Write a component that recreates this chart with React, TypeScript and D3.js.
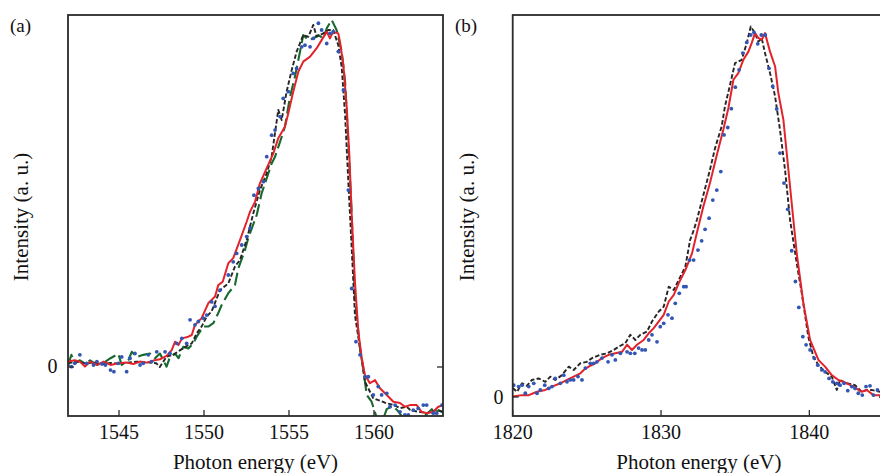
import React from 'react';
import * as d3 from 'd3';

type Pt = [number, number];

// ---------- axes / ticks ----------
const aXTicks = [1545, 1550, 1555, 1560];
const bXTicks = [1820, 1830, 1840];
const yTickValues = [0];
const aXDomain: [number, number] = [1542, 1564.06];
const aYDomain: [number, number] = [-0.1454, 1.0445];
const bXDomain: [number, number] = [1820, 1845.1];
const bYDomain: [number, number] = [-0.0514, 1.032];
const xTitle = 'Photon energy (eV)';
const yTitle = 'Intensity (a. u.)';

// ---------- panel (a) data ----------
const aRed: Pt[] = [
  [1542.0, 0.016], [1542.4, 0.02], [1542.7, 0.016], [1543.0, 0.001], [1543.3, 0.016], [1543.7, 0.006],
  [1544.1, 0.016], [1544.5, 0.006], [1544.96, 0.011], [1545.45, 0.013], [1545.84, 0.009], [1546.24, 0.016],
  [1546.63, 0.013], [1547.02, 0.019], [1547.41, 0.023], [1547.8, 0.033], [1548.1, 0.05], [1548.3, 0.075],
  [1548.5, 0.065], [1548.7, 0.085], [1549.08, 0.09], [1549.28, 0.095], [1549.47, 0.125], [1549.86, 0.145],
  [1550.25, 0.189], [1550.65, 0.209], [1550.84, 0.243], [1551.1, 0.253], [1551.43, 0.308], [1551.72, 0.323],
  [1552.12, 0.377], [1552.51, 0.431], [1552.71, 0.461], [1553.0, 0.49], [1553.29, 0.545], [1553.69, 0.59],
  [1554.08, 0.634], [1554.37, 0.679], [1554.76, 0.713], [1554.96, 0.753], [1555.25, 0.817], [1555.55, 0.876],
  [1555.84, 0.906], [1556.24, 0.921], [1556.63, 0.946], [1556.92, 0.97], [1557.22, 0.995], [1557.41, 0.975],
  [1557.6, 0.995], [1557.9, 0.99], [1558.0, 0.965], [1558.2, 0.896], [1558.4, 0.768], [1558.55, 0.629],
  [1558.69, 0.451], [1558.88, 0.253], [1559.08, 0.105], [1559.28, 0.026], [1559.47, -0.024], [1559.76, -0.048],
  [1560.06, -0.039], [1560.35, -0.063], [1560.75, -0.083], [1561.14, -0.103], [1561.53, -0.107], [1561.82, -0.118],
  [1562.12, -0.113], [1562.51, -0.113], [1562.8, -0.133], [1563.1, -0.137], [1563.49, -0.133], [1563.78, -0.118],
  [1564.06, -0.113],
];

const aBlack: Pt[] = [
  [1542.0, 0.011], [1542.5, 0.016], [1543.0, 0.01], [1543.5, 0.014], [1544.0, 0.008], [1544.5, 0.012],
  [1545.0, 0.01], [1545.5, 0.013], [1546.04, 0.016], [1546.6, 0.014], [1547.2, 0.011], [1547.4, 0.0],
  [1547.8, 0.031], [1548.2, 0.036], [1548.6, 0.05], [1548.9, 0.06], [1549.28, 0.07], [1549.57, 0.1],
  [1549.86, 0.12], [1550.16, 0.15], [1550.45, 0.165], [1550.94, 0.228], [1551.43, 0.248], [1551.82, 0.298],
  [1552.12, 0.318], [1552.51, 0.377], [1552.9, 0.456], [1553.29, 0.525], [1553.69, 0.575], [1553.98, 0.624],
  [1554.37, 0.763], [1554.57, 0.733], [1554.86, 0.817], [1555.16, 0.881], [1555.45, 0.936], [1555.84, 0.985],
  [1556.14, 0.98], [1556.43, 1.015], [1556.63, 0.98], [1557.02, 0.99], [1557.31, 1.0], [1557.6, 1.0],
  [1557.9, 0.955], [1558.1, 0.89], [1558.3, 0.748], [1558.49, 0.55], [1558.69, 0.352], [1558.88, 0.154],
  [1559.18, 0.055], [1559.47, -0.044], [1559.96, -0.093], [1560.35, -0.1], [1560.75, -0.108], [1561.14, -0.112],
  [1561.53, -0.122], [1561.92, -0.118], [1562.12, -0.127], [1562.51, -0.132], [1563.1, -0.137], [1563.69, -0.128],
  [1564.06, -0.133],
];

const aGreen: Pt[] = [
  [1542.0, 0.006], [1542.2, 0.036], [1542.4, 0.011], [1542.7, 0.02], [1543.0, 0.01], [1543.3, 0.02],
  [1543.7, 0.006], [1544.2, 0.016], [1544.5, 0.026], [1544.96, 0.039], [1545.16, 0.006], [1545.55, 0.02],
  [1545.75, 0.045], [1546.04, 0.03], [1546.43, 0.036], [1546.82, 0.04], [1547.12, 0.026], [1547.41, 0.04],
  [1547.8, 0.001], [1548.0, 0.03], [1548.3, 0.04], [1548.5, 0.026], [1548.78, 0.06], [1549.08, 0.055],
  [1549.37, 0.07], [1549.57, 0.09], [1549.96, 0.12], [1550.25, 0.12], [1550.55, 0.13], [1550.84, 0.16],
  [1551.04, 0.184], [1551.43, 0.219], [1551.82, 0.243], [1552.02, 0.293], [1552.41, 0.347], [1552.6, 0.382],
  [1553.1, 0.451], [1553.39, 0.515], [1553.59, 0.545], [1553.98, 0.604], [1554.18, 0.624], [1554.57, 0.683],
  [1554.76, 0.713], [1555.06, 0.802], [1555.35, 0.861], [1555.65, 0.936], [1555.84, 0.985], [1556.14, 0.97],
  [1556.43, 0.975], [1556.73, 0.985], [1557.02, 0.975], [1557.22, 1.005], [1557.51, 1.03], [1557.8, 1.0],
  [1558.1, 0.936], [1558.3, 0.847], [1558.49, 0.669], [1558.69, 0.451], [1558.88, 0.204], [1559.18, 0.055],
  [1559.37, -0.004], [1559.57, -0.083], [1559.86, -0.103], [1560.16, -0.15], [1560.5, -0.16], [1560.75, -0.125],
  [1561.1, -0.115], [1561.4, -0.13], [1561.7, -0.15], [1562.0, -0.16], [1562.4, -0.155], [1562.8, -0.15],
  [1563.1, -0.14], [1563.4, -0.125], [1563.6, -0.14], [1563.8, -0.128], [1564.06, -0.135],
];

const aBlue: Pt[] = [
  [1542.0, 0.006], [1542.2, 0.001], [1542.4, 0.011], [1542.7, 0.036], [1543.1, 0.011], [1543.5, 0.006],
  [1543.7, 0.016], [1544.0, 0.009], [1544.2, 0.006], [1544.5, -0.009], [1544.7, -0.014], [1544.96, 0.011],
  [1545.16, 0.03], [1545.45, -0.014], [1545.65, 0.026], [1545.94, 0.04], [1546.24, 0.006], [1546.43, 0.011],
  [1546.72, 0.036], [1546.92, 0.016], [1547.22, 0.045], [1547.71, 0.045], [1548.0, 0.04], [1548.4, 0.07],
  [1548.7, 0.085], [1548.98, 0.07], [1549.18, 0.14], [1549.47, 0.125], [1549.67, 0.135], [1549.96, 0.145],
  [1550.16, 0.154], [1550.45, 0.193], [1550.65, 0.18], [1550.94, 0.228], [1551.43, 0.273], [1551.72, 0.312],
  [1551.92, 0.337], [1552.22, 0.362], [1552.51, 0.387], [1552.71, 0.412], [1552.94, 0.51], [1553.2, 0.53],
  [1553.49, 0.55], [1553.69, 0.624], [1553.98, 0.688], [1554.18, 0.703], [1554.47, 0.743], [1554.66, 0.797],
  [1554.96, 0.817], [1555.25, 0.871], [1555.45, 0.886], [1555.75, 0.95], [1555.94, 0.955], [1556.24, 0.95],
  [1556.43, 0.975], [1556.73, 1.02], [1556.92, 1.0], [1557.22, 0.96], [1557.41, 0.99], [1557.6, 0.995],
  [1557.9, 0.936], [1558.2, 0.822], [1558.49, 0.525], [1558.69, 0.233], [1558.94, 0.075], [1559.18, 0.036],
  [1559.47, -0.029], [1559.67, -0.029], [1559.96, -0.083], [1560.25, -0.058], [1560.45, -0.083], [1560.75, -0.078],
  [1560.94, -0.118], [1561.24, -0.113], [1561.53, -0.133], [1561.82, -0.142], [1562.02, -0.142], [1562.31, -0.128],
  [1562.6, -0.123], [1562.9, -0.113], [1563.1, -0.113], [1563.49, -0.137], [1563.69, -0.137], [1564.0, -0.113],
];

// ---------- panel (b) data ----------
const bRed: Pt[] = [
  [1820.0, 0.001], [1820.63, 0.005], [1821.08, 0.005], [1821.64, 0.014], [1822.2, 0.019], [1822.65, 0.028],
  [1823.21, 0.037], [1823.66, 0.046], [1824.11, 0.055], [1824.56, 0.064], [1824.79, 0.073], [1825.12, 0.082],
  [1825.57, 0.091], [1826.02, 0.105], [1826.47, 0.114], [1826.92, 0.118], [1827.37, 0.122], [1827.71, 0.141],
  [1828.04, 0.127], [1828.38, 0.141], [1828.83, 0.154], [1829.17, 0.172], [1829.51, 0.186], [1829.85, 0.204],
  [1830.18, 0.222], [1830.52, 0.258], [1830.86, 0.276], [1831.19, 0.307], [1831.64, 0.343], [1832.09, 0.388],
  [1832.43, 0.446], [1832.85, 0.514], [1833.3, 0.578], [1833.76, 0.654], [1834.2, 0.722], [1834.54, 0.78],
  [1834.88, 0.857], [1835.21, 0.875], [1835.55, 0.911], [1835.89, 0.933], [1836.11, 0.956], [1836.34, 0.983],
  [1836.56, 0.97], [1836.79, 0.965], [1837.01, 0.983], [1837.35, 0.933], [1837.69, 0.893], [1837.91, 0.821],
  [1838.25, 0.749], [1838.7, 0.568], [1839.15, 0.388], [1839.6, 0.253], [1840.05, 0.154], [1840.61, 0.1],
  [1841.06, 0.082], [1841.51, 0.059], [1841.96, 0.046], [1842.52, 0.037], [1842.97, 0.028], [1843.53, 0.014],
  [1843.87, 0.019], [1844.32, 0.005], [1844.77, 0.005], [1845.1, 0.003],
];

const bBlack: Pt[] = [
  [1820.0, 0.024], [1820.29, 0.014], [1820.63, 0.037], [1820.95, 0.03], [1821.3, 0.046], [1821.75, 0.05],
  [1822.2, 0.041], [1822.54, 0.055], [1822.87, 0.046], [1823.32, 0.059], [1823.78, 0.082], [1824.11, 0.073],
  [1824.56, 0.091], [1825.0, 0.095], [1825.35, 0.105], [1825.9, 0.114], [1826.36, 0.118], [1826.81, 0.127],
  [1827.15, 0.136], [1827.59, 0.145], [1827.93, 0.168], [1828.27, 0.154], [1828.6, 0.168], [1829.06, 0.177],
  [1829.39, 0.204], [1829.85, 0.231], [1830.18, 0.244], [1830.52, 0.298], [1830.86, 0.289], [1831.19, 0.316],
  [1831.64, 0.352], [1831.96, 0.424], [1832.2, 0.45], [1832.43, 0.48], [1832.85, 0.545], [1833.3, 0.614],
  [1833.64, 0.672], [1834.09, 0.731], [1834.31, 0.785], [1834.65, 0.843], [1834.99, 0.902], [1835.44, 0.911],
  [1835.78, 0.956], [1836.05, 1.001], [1836.34, 0.983], [1836.56, 0.96], [1836.79, 0.969], [1837.01, 0.929],
  [1837.35, 0.875], [1837.69, 0.812], [1838.02, 0.722], [1838.36, 0.614], [1838.7, 0.478], [1839.15, 0.361],
  [1839.49, 0.28], [1839.93, 0.163], [1840.27, 0.109], [1840.61, 0.086], [1841.06, 0.068], [1841.51, 0.055],
  [1841.85, 0.019], [1842.07, 0.046], [1842.52, 0.037], [1843.08, 0.032], [1843.53, 0.014], [1843.87, 0.019],
  [1844.2, 0.019], [1844.77, 0.014], [1845.1, 0.014],
];

const bBlue: Pt[] = [
  [1820.07, 0.032], [1820.4, 0.028], [1820.63, 0.032], [1820.85, 0.01], [1821.08, 0.028], [1821.42, 0.037],
  [1821.64, 0.01], [1821.86, 0.019], [1822.16, 0.032], [1822.43, 0.023], [1822.65, 0.028], [1822.87, 0.05],
  [1823.21, 0.037], [1823.44, 0.059], [1823.66, 0.041], [1823.88, 0.046], [1824.11, 0.046], [1824.4, 0.055],
  [1824.67, 0.046], [1824.9, 0.078], [1825.23, 0.091], [1825.46, 0.091], [1825.68, 0.095], [1826.02, 0.105],
  [1826.43, 0.095], [1826.7, 0.114], [1826.92, 0.1], [1827.26, 0.118], [1827.71, 0.122], [1827.93, 0.118],
  [1828.23, 0.118], [1828.49, 0.132], [1828.72, 0.127], [1828.94, 0.127], [1829.17, 0.154], [1829.39, 0.168],
  [1829.73, 0.149], [1829.95, 0.19], [1830.18, 0.199], [1830.47, 0.222], [1830.74, 0.213], [1830.96, 0.253],
  [1831.23, 0.28], [1831.53, 0.298], [1831.69, 0.298], [1831.93, 0.37], [1832.2, 0.37], [1832.49, 0.397],
  [1832.74, 0.422], [1832.97, 0.453], [1833.24, 0.483], [1833.49, 0.532], [1833.76, 0.559], [1834.03, 0.609],
  [1834.25, 0.708], [1834.5, 0.728], [1834.74, 0.779], [1835.01, 0.837], [1835.26, 0.884], [1835.51, 0.929],
  [1835.78, 0.958], [1836.05, 0.978], [1836.27, 0.985], [1836.52, 0.954], [1836.76, 0.978], [1837.03, 0.978],
  [1837.28, 0.888], [1837.53, 0.839], [1837.8, 0.778], [1838.02, 0.659], [1838.29, 0.578], [1838.54, 0.507],
  [1838.81, 0.395], [1839.06, 0.312], [1839.29, 0.242], [1839.56, 0.163], [1839.78, 0.141], [1840.05, 0.127],
  [1840.32, 0.105], [1840.57, 0.086], [1840.84, 0.073], [1841.06, 0.068], [1841.33, 0.05], [1841.58, 0.041],
  [1841.85, 0.037], [1842.07, 0.032], [1842.34, 0.037], [1842.59, 0.017], [1842.86, 0.028], [1843.08, 0.023],
  [1843.3, 0.01], [1843.57, 0.005], [1843.82, 0.028], [1844.09, 0.03], [1844.32, 0.005], [1844.59, 0.019],
];

// ---------- styling ----------
const FONT = '"Liberation Serif", "Times New Roman", Times, serif';
const RED = '#e2232b';
const BLACK = '#262626';
const GREEN = '#17692f';
const BLUE = '#3356b4';
const AXIS = '#2b2b2b';

type LineSpec = { data: Pt[]; color: string; width: number; dash?: string };

interface PanelProps {
  id: string;
  l: number; r: number; t: number; b: number;
  xDomain: [number, number];
  yDomain: [number, number];
  xTicks: number[];
  lines: LineSpec[];
  dots: Pt[];
  tag: string;
  tagX: number;
  zeroX: number;
  zeroDy: number;
  yTitleX: number;
}

function Panel(p: PanelProps) {
  const x = d3.scaleLinear().domain(p.xDomain).range([p.l, p.r]);
  const y = d3.scaleLinear().domain(p.yDomain).range([p.b, p.t]);
  const line = d3.line<Pt>().x((d) => x(d[0])).y((d) => y(d[1]));
  const cx = (p.l + p.r) / 2;
  const tickLen = 6;
  return (
    <g>
      <defs>
        <clipPath id={p.id}>
          <rect x={p.l} y={p.t} width={p.r - p.l} height={p.b - p.t} />
        </clipPath>
      </defs>
      <g clipPath={`url(#${p.id})`}>
        {p.lines.map((s, i) => (
          <path
            key={i}
            d={line(s.data) || ''}
            fill="none"
            stroke={s.color}
            strokeWidth={s.width}
            strokeDasharray={s.dash}
            strokeLinejoin="round"
          />
        ))}
        {p.dots.map((d, i) => (
          <circle key={i} cx={x(d[0])} cy={y(d[1])} r={1.9} fill={BLUE} />
        ))}
      </g>
      <rect x={p.l} y={p.t} width={p.r - p.l} height={p.b - p.t} fill="none" stroke={AXIS} strokeWidth={1.8} />
      {p.xTicks.map((t) => (
        <g key={t}>
          <line x1={x(t)} x2={x(t)} y1={p.b} y2={p.b - tickLen} stroke={AXIS} strokeWidth={1.3} />
          <text x={x(t)} y={439} textAnchor="middle" fontFamily={FONT} fontSize={20} fill="#111">
            {t}
          </text>
        </g>
      ))}
      {yTickValues.map((v) => (
        <g key={v}>
          <line x1={p.l} x2={p.l + tickLen} y1={y(v)} y2={y(v)} stroke={AXIS} strokeWidth={1.3} />
          <line x1={p.r} x2={p.r - tickLen} y1={y(v)} y2={y(v)} stroke={AXIS} strokeWidth={1.3} />
          <text x={p.zeroX} y={y(v) + p.zeroDy} textAnchor="middle" fontFamily={FONT} fontSize={20} fill="#111">
            {v}
          </text>
        </g>
      ))}
      <text x={cx} y={469} textAnchor="middle" fontFamily={FONT} fontSize={21} fill="#111">
        {xTitle}
      </text>
      <text
        transform={`translate(${p.yTitleX},${217}) rotate(-90)`}
        textAnchor="middle"
        fontFamily={FONT}
        fontSize={21}
        fill="#111"
      >
        {yTitle}
      </text>
      <text x={p.tagX} y={32} fontFamily={FONT} fontSize={19} fill="#111">
        {p.tag}
      </text>
    </g>
  );
}

export default function App() {
  return (
    <div style={{ position: 'absolute', left: 0, top: 0, width: 880, height: 473, background: '#fff' }}>
      <svg width={880} height={473} viewBox="0 0 880 473" style={{ display: 'block' }}>
        <rect x={0} y={0} width={880} height={473} fill="#fff" />
        <Panel
          id="clipA"
          l={68} r={443} t={15} b={416}
          xDomain={aXDomain}
          yDomain={aYDomain}
          xTicks={aXTicks}
          lines={[
            { data: aGreen, color: GREEN, width: 2.1, dash: '13,5' },
            { data: aBlack, color: BLACK, width: 1.9, dash: '4.5,2.2' },
            { data: aRed, color: RED, width: 2 },
          ]}
          dots={aBlue}
          tag="(a)"
          tagX={10}
          zeroX={52.5}
          zeroDy={6.5}
          yTitleX={28}
        />
        <Panel
          id="clipB"
          l={512.7} r={885} t={15} b={416}
          xDomain={bXDomain}
          yDomain={bYDomain}
          xTicks={bXTicks}
          lines={[
            { data: bBlack, color: BLACK, width: 1.9, dash: '4.5,2.2' },
            { data: bRed, color: RED, width: 2 },
          ]}
          dots={bBlue}
          tag="(b)"
          tagX={455}
          zeroX={498.5}
          zeroDy={7}
          yTitleX={474}
        />
      </svg>
    </div>
  );
}
